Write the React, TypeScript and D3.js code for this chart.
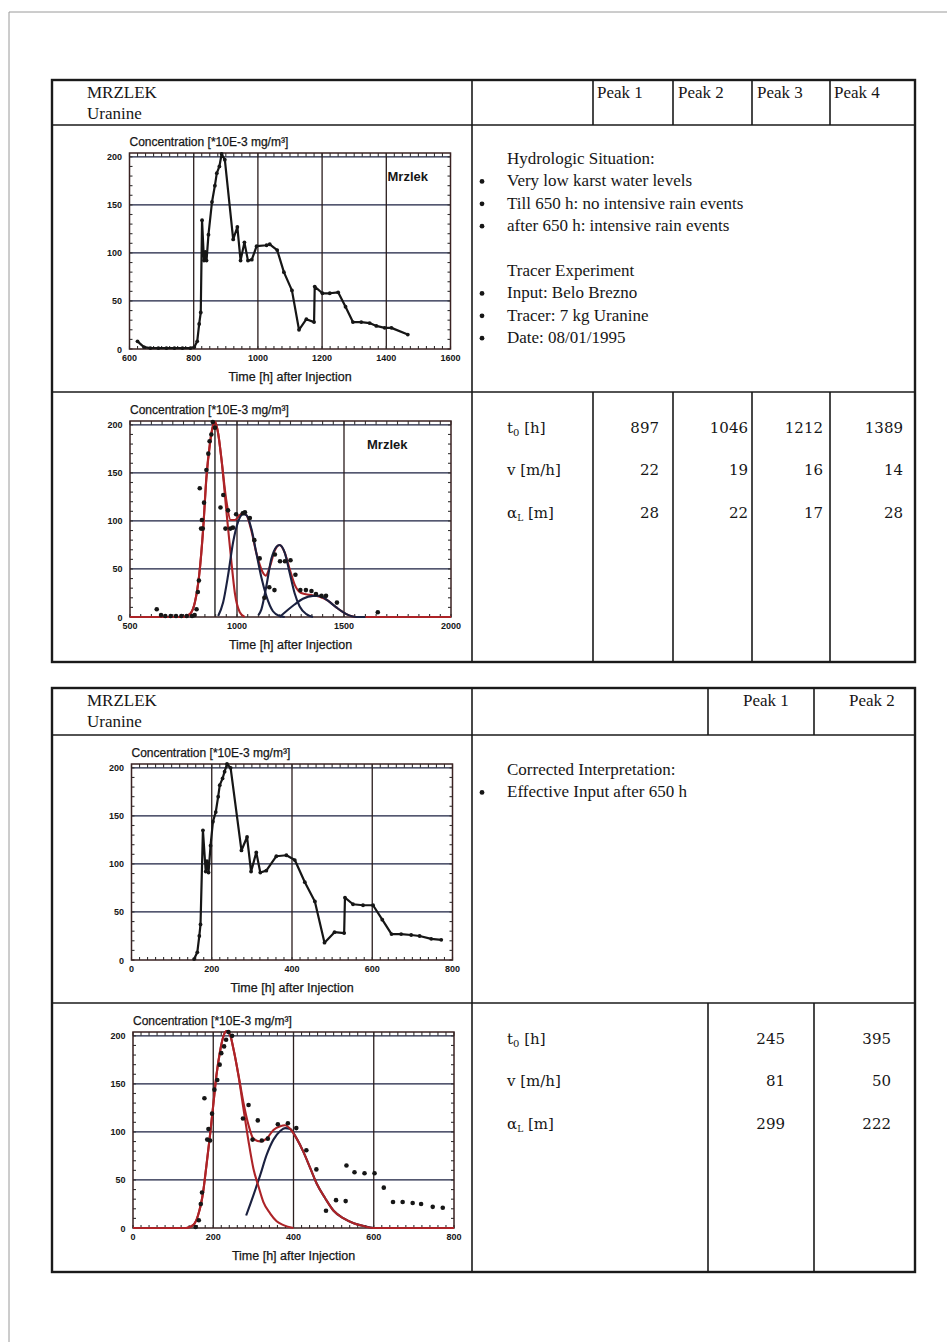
import React, { useEffect, useRef } from 'react';
import * as d3 from 'd3';

// Mrzlek spring, uranine breakthrough (time [h] after injection, conc. *10E-3 mg/m3)
const measured: [number, number][] = [
  [625, 8], [645, 2], [665, 1], [690, 1], [715, 1], [740, 1], [765, 1], [790, 1],
  [802, 2], [811, 8], [817, 26], [822, 38], [826, 134], [832, 92], [836, 101], [840, 92],
  [846, 119], [857, 153], [866, 170], [872, 183], [880, 190], [887, 203], [897, 197],
  [923, 114], [936, 127], [946, 92], [958, 111], [969, 92], [981, 93], [996, 107],
  [1027, 108], [1037, 109], [1060, 103], [1081, 80], [1106, 61], [1128, 20], [1151, 31],
  [1175, 28], [1177, 65], [1201, 58], [1224, 58], [1250, 59], [1273, 44], [1296, 28],
  [1322, 28], [1348, 27], [1369, 24], [1395, 22], [1416, 22], [1467, 15],
];
const lateSample: [number, number][] = [[1658, 5]];

// four-peak model fit (first interpretation)
const fitTotal: [number, number][] = [
  [500, 0], [749, 0], [780, 3], [803, 15], [823, 43], [842, 92], [857, 146], [873, 180],
  [889, 200], [898, 203], [912, 191], [927, 165], [951, 120], [970, 101], [990, 101],
  [1013, 106], [1028, 108], [1044, 106], [1067, 90], [1090, 67], [1119, 47], [1134, 43],
  [1153, 52], [1176, 69], [1199, 75], [1223, 67], [1246, 50], [1269, 34], [1300, 25],
  [1340, 23], [1386, 21], [1425, 17], [1464, 10], [1511, 3], [1557, 0], [2000, 0],
];
const fitPeak1: [number, number][] = [
  [500, 0], [749, 0], [780, 3], [803, 15], [823, 43], [842, 92], [857, 144], [873, 179],
  [889, 200], [898, 203], [912, 191], [927, 165], [951, 109], [974, 57], [990, 25],
  [1013, 5], [1036, 0],
];
const fitPeak2: [number, number][] = [
  [912, 1], [935, 15], [958, 43], [982, 78], [1005, 99], [1028, 107], [1044, 106],
  [1067, 92], [1090, 67], [1114, 41], [1137, 22], [1168, 6], [1199, 1], [1223, 0],
];
const fitPeak3: [number, number][] = [
  [1100, 2], [1114, 8], [1137, 32], [1160, 60], [1184, 73], [1199, 75], [1223, 67],
  [1246, 46], [1269, 25], [1293, 11], [1324, 3], [1355, 0],
];
const fitPeak4: [number, number][] = [
  [1199, 0], [1230, 6], [1269, 13], [1308, 19], [1355, 22], [1386, 22], [1425, 17],
  [1464, 10], [1511, 3], [1557, 0], [1600, 0],
];
const peak1Marker = [897];

// corrected interpretation: time [h] after 650 h
const corrected: [number, number][] = [
  [156, 1], [164, 8], [169, 25], [172, 37], [178, 135], [185, 92], [188, 103], [192, 91],
  [197, 119], [203, 144], [210, 154], [216, 170], [220, 182], [227, 189], [232, 196],
  [238, 204], [247, 200], [274, 114], [288, 128], [298, 92], [311, 112], [321, 91],
  [336, 93], [361, 108], [386, 109], [407, 104], [432, 81], [457, 61], [481, 18],
  [506, 29], [530, 28], [532, 65], [552, 58], [577, 57], [602, 57], [625, 42], [648, 27],
  [672, 27], [697, 26], [718, 25], [747, 22], [772, 21],
];
const corrFitTotal: [number, number][] = [
  [0, 0], [133, 0], [150, 3], [162, 13], [175, 38], [183, 65], [192, 97], [200, 128],
  [208, 159], [217, 184], [225, 199], [233, 205], [242, 201], [250, 187], [263, 159],
  [275, 131], [288, 107], [300, 93], [317, 90], [333, 93], [350, 102], [367, 106],
  [379, 107], [392, 103], [408, 93], [425, 79], [442, 62], [458, 46], [479, 31],
  [500, 18], [525, 10], [550, 5], [575, 2], [600, 0], [800, 0],
];
const corrFitPeak1: [number, number][] = [
  [133, 0], [150, 3], [162, 13], [175, 38], [183, 65], [192, 97], [200, 128], [208, 159],
  [217, 184], [225, 199], [233, 205], [242, 201], [250, 187], [263, 158], [275, 125],
  [288, 90], [300, 62], [313, 43], [325, 27], [342, 15], [358, 7], [375, 3], [400, 0],
];
const corrFitPeak2: [number, number][] = [
  [282, 13], [300, 34], [317, 55], [333, 76], [350, 92], [367, 101], [379, 104],
  [392, 103], [408, 93], [425, 79], [442, 62], [458, 46], [479, 31], [500, 18],
  [525, 10], [550, 5], [575, 2], [600, 0],
];

// table contents
const siteName = 'MRZLEK';
const tracerName = 'Uranine';
const peaksTop = ['Peak 1', 'Peak 2', 'Peak 3', 'Peak 4'];
const t0Top = [897, 1046, 1212, 1389];
const vTop = [22, 19, 16, 14];
const alphaTop = [28, 22, 17, 28];
const peaksBottom = ['Peak 1', 'Peak 2'];
const t0Bottom = [245, 395];
const vBottom = [81, 50];
const alphaBottom = [299, 222];
const situation = [
  { text: 'Hydrologic Situation:', bullet: false },
  { text: 'Very low karst water levels', bullet: true },
  { text: 'Till 650 h: no intensive rain events', bullet: true },
  { text: 'after 650 h: intensive rain events', bullet: true },
  { text: '', bullet: false },
  { text: 'Tracer Experiment', bullet: false },
  { text: 'Input: Belo Brezno', bullet: true },
  { text: 'Tracer: 7 kg Uranine', bullet: true },
  { text: 'Date: 08/01/1995', bullet: true },
];
const correction = [
  { text: 'Corrected Interpretation:', bullet: false },
  { text: 'Effective Input after 650 h', bullet: true },
];
const yTicks = [0, 50, 100, 150, 200];

const PLOT_W = 321;
const PLOT_H = 196;
const Y_MAX = 204;
const SANS = '"Liberation Sans", Arial, sans-serif';
const SERIF = '"Liberation Serif", "Times New Roman", serif';
const BOOK = '"DejaVu Serif", serif';
const RED = '#ad2327';
const NAVY = '#1b2140';
const INK = '#161616';

type Pt = [number, number];
interface ChartCfg {
  left: number;
  top: number;
  xDomain: [number, number];
  xTicks: number[];
  xMinor: number;
  markers?: number[];
  dataLine?: Pt[];
  dots?: Pt[];
  fits?: { data: Pt[]; color: string }[];
  label?: { text: string; x: number };
}

function drawChart(root: any, cfg: ChartCfg) {
  const g = root.append('g').attr('transform', `translate(${cfg.left},${cfg.top})`);
  const x = d3.scaleLinear().domain(cfg.xDomain).range([0, PLOT_W]);
  const y = d3.scaleLinear().domain([0, Y_MAX]).range([PLOT_H, 0]);

  g.append('rect').attr('width', PLOT_W).attr('height', PLOT_H).attr('fill', '#fff');

  // horizontal grid
  g.selectAll('.hg').data(yTicks.slice(1)).join('line')
    .attr('x1', 0).attr('x2', PLOT_W)
    .attr('y1', (d: number) => y(d)).attr('y2', (d: number) => y(d))
    .attr('stroke', NAVY).attr('stroke-width', 1.3);

  // vertical grid
  g.selectAll('.vg').data(cfg.xTicks.slice(1, -1)).join('line')
    .attr('x1', (d: number) => x(d)).attr('x2', (d: number) => x(d))
    .attr('y1', 0).attr('y2', PLOT_H)
    .attr('stroke', '#2a1d1d').attr('stroke-width', 1.3);

  (cfg.markers || []).forEach((m) => {
    g.append('line').attr('x1', x(m)).attr('x2', x(m)).attr('y1', 0).attr('y2', PLOT_H)
      .attr('stroke', '#222').attr('stroke-width', 1.4);
  });

  // minor ticks, pointing inward
  const xm = d3.range(cfg.xDomain[0], cfg.xDomain[1] + 0.001, cfg.xMinor);
  const ym = d3.range(0, 201, 10);
  const tick = g.append('g').attr('stroke', '#333').attr('stroke-width', 1.1);
  xm.forEach((v) => {
    tick.append('line').attr('x1', x(v)).attr('x2', x(v)).attr('y1', PLOT_H).attr('y2', PLOT_H - 3);
    tick.append('line').attr('x1', x(v)).attr('x2', x(v)).attr('y1', 0).attr('y2', y(200));
  });
  ym.forEach((v) => {
    tick.append('line').attr('x1', 0).attr('x2', 3).attr('y1', y(v)).attr('y2', y(v));
    tick.append('line').attr('x1', PLOT_W).attr('x2', PLOT_W - 3).attr('y1', y(v)).attr('y2', y(v));
  });

  // frame
  g.append('rect').attr('width', PLOT_W).attr('height', PLOT_H)
    .attr('fill', 'none').attr('stroke', '#3a2222').attr('stroke-width', 1.5);

  const smooth = d3.line<Pt>().x((d) => x(d[0])).y((d) => y(d[1])).curve(d3.curveMonotoneX);
  (cfg.fits || []).forEach((f) => {
    g.append('path').datum(f.data).attr('d', smooth)
      .attr('fill', 'none').attr('stroke', f.color).attr('stroke-width', 2.1);
  });

  if (cfg.dataLine) {
    const straight = d3.line<Pt>().x((d) => x(d[0])).y((d) => y(d[1]));
    g.append('path').datum(cfg.dataLine).attr('d', straight)
      .attr('fill', 'none').attr('stroke', INK).attr('stroke-width', 2.2).attr('stroke-linejoin', 'round');
    g.selectAll('.lp').data(cfg.dataLine).join('circle')
      .attr('cx', (d: Pt) => x(d[0])).attr('cy', (d: Pt) => y(d[1])).attr('r', 1.9).attr('fill', INK);
  }

  if (cfg.dots) {
    g.selectAll('.dp').data(cfg.dots).join('circle')
      .attr('cx', (d: Pt) => x(d[0])).attr('cy', (d: Pt) => y(d[1])).attr('r', 2.3).attr('fill', INK);
  }

  // tick labels
  g.selectAll('.yl').data(yTicks).join('text')
    .attr('x', -7.5).attr('y', (d: number) => y(d) + 3.5)
    .attr('text-anchor', 'end').attr('font-family', SANS).attr('font-size', 9)
    .attr('font-weight', 'bold').attr('fill', INK).text((d: number) => d);
  g.selectAll('.xl').data(cfg.xTicks).join('text')
    .attr('x', (d: number) => x(d)).attr('y', PLOT_H + 11.5)
    .attr('text-anchor', 'middle').attr('font-family', SANS).attr('font-size', 9)
    .attr('font-weight', 'bold').attr('fill', INK).text((d: number) => d);

  g.append('text').attr('x', 0).attr('y', -7.5)
    .attr('font-family', SANS).attr('font-size', 12).attr('fill', INK)
    .attr('stroke', INK).attr('stroke-width', 0.25)
    .text('Concentration [*10E-3 mg/m³]');
  g.append('text').attr('x', PLOT_W / 2).attr('y', PLOT_H + 32).attr('text-anchor', 'middle')
    .attr('font-family', SANS).attr('font-size', 12.5).attr('fill', INK)
    .attr('stroke', INK).attr('stroke-width', 0.25)
    .text('Time [h] after Injection');

  if (cfg.label) {
    g.append('text').attr('x', cfg.label.x).attr('y', 28)
      .attr('font-family', SANS).attr('font-size', 13).attr('font-weight', 'bold').attr('fill', INK)
      .text(cfg.label.text);
  }
}

function drawTable(root: any, t: any) {
  const g = root.append('g').attr('stroke', '#1a1a1a').attr('fill', 'none');
  g.append('rect').attr('x', t.x0).attr('y', t.y0).attr('width', t.x1 - t.x0).attr('height', t.y1 - t.y0)
    .attr('stroke-width', 2.4);
  [t.yHead, t.yMid].forEach((yy: number) => {
    g.append('line').attr('x1', t.x0).attr('x2', t.x1).attr('y1', yy).attr('y2', yy).attr('stroke-width', 1.6);
  });
  g.append('line').attr('x1', t.split).attr('x2', t.split).attr('y1', t.y0).attr('y2', t.y1).attr('stroke-width', 1.6);
  t.cols.forEach((cx: number) => {
    g.append('line').attr('x1', cx).attr('x2', cx).attr('y1', t.y0).attr('y2', t.yHead).attr('stroke-width', 1.6);
    g.append('line').attr('x1', cx).attr('x2', cx).attr('y1', t.yMid).attr('y2', t.y1).attr('stroke-width', 1.6);
  });

  const txt = (x: number, y: number, s: string, font: string, size: number, anchor = 'start') =>
    root.append('text').attr('x', x).attr('y', y).attr('font-family', font).attr('font-size', size)
      .attr('text-anchor', anchor).attr('fill', INK).text(s);

  txt(87, t.y0 + 18, siteName, SERIF, 17);
  txt(87, t.y0 + 39, tracerName, SERIF, 17);
  t.peaks.forEach((p: string, i: number) => txt(t.peakX[i], t.y0 + 18, p, SERIF, 17));

  t.notes.forEach((n: any, i: number) => {
    if (!n.text) return;
    const yy = t.notesY + i * 22.4;
    if (n.bullet) root.append('circle').attr('cx', 482).attr('cy', yy - 5).attr('r', 2.4).attr('fill', INK);
    txt(507, yy, n.text, SERIF, 17);
  });

  // parameter rows
  const rowY = [t.yMid + 41, t.yMid + 83, t.yMid + 126];
  const lab0 = root.append('text').attr('x', 507).attr('y', rowY[0])
    .attr('font-family', BOOK).attr('font-size', 15).attr('fill', INK);
  lab0.append('tspan').text('t');
  lab0.append('tspan').attr('font-size', 10).attr('dy', 3).text('0');
  lab0.append('tspan').attr('dy', -3).text(' [h]');
  txt(507, rowY[1], 'v [m/h]', BOOK, 15);
  const lab2 = root.append('text').attr('x', 507).attr('y', rowY[2])
    .attr('font-family', BOOK).attr('font-size', 15).attr('fill', INK);
  lab2.append('tspan').text('α');
  lab2.append('tspan').attr('font-size', 9).attr('dy', 3).text('L');
  lab2.append('tspan').attr('dy', -3).text(' [m]');

  [t.t0, t.v, t.alpha].forEach((vals: number[], r: number) => {
    vals.forEach((v: number, i: number) => txt(t.valX[i], rowY[r], String(v), BOOK, 15, 'end'));
  });
}

export default function App() {
  const ref = useRef<SVGSVGElement>(null);

  useEffect(() => {
    const svg = d3.select(ref.current);
    svg.selectAll('*').remove();
    svg.append('rect').attr('width', 947).attr('height', 1342).attr('fill', '#fff');

    // scanned page edge
    svg.append('line').attr('x1', 9).attr('x2', 947).attr('y1', 12).attr('y2', 12)
      .attr('stroke', '#9a9a9a').attr('stroke-width', 1);
    svg.append('line').attr('x1', 9).attr('x2', 9).attr('y1', 12).attr('y2', 1342)
      .attr('stroke', '#9a9a9a').attr('stroke-width', 1);

    drawTable(svg, {
      x0: 52, x1: 915, y0: 80, yHead: 125, yMid: 392, y1: 662, split: 472,
      cols: [593, 673, 752, 830], peaks: peaksTop, peakX: [597, 678, 757, 834],
      notes: situation, notesY: 164,
      t0: t0Top, v: vTop, alpha: alphaTop, valX: [659, 748, 823, 903],
    });
    drawTable(svg, {
      x0: 52, x1: 915, y0: 688, yHead: 735, yMid: 1003, y1: 1272, split: 472,
      cols: [708, 814], peaks: peaksBottom, peakX: [743, 849],
      notes: correction, notesY: 775,
      t0: t0Bottom, v: vBottom, alpha: alphaBottom, valX: [785, 891],
    });

    drawChart(svg, {
      left: 129.5, top: 153, xDomain: [600, 1600], xTicks: [600, 800, 1000, 1200, 1400, 1600],
      xMinor: 25, dataLine: measured, label: { text: 'Mrzlek', x: 258 },
    });
    drawChart(svg, {
      left: 130, top: 421, xDomain: [500, 2000], xTicks: [500, 1000, 1500, 2000],
      xMinor: 50, markers: peak1Marker,
      fits: [
        { data: fitTotal, color: RED },
        { data: fitPeak1, color: RED },
        { data: fitPeak2, color: NAVY },
        { data: fitPeak3, color: NAVY },
        { data: fitPeak4, color: NAVY },
      ],
      dots: measured.concat(lateSample), label: { text: 'Mrzlek', x: 237 },
    });
    drawChart(svg, {
      left: 131.5, top: 764, xDomain: [0, 800], xTicks: [0, 200, 400, 600, 800],
      xMinor: 20, dataLine: corrected,
    });
    drawChart(svg, {
      left: 133, top: 1032, xDomain: [0, 800], xTicks: [0, 200, 400, 600, 800],
      xMinor: 20,
      fits: [
        { data: corrFitPeak2, color: NAVY },
        { data: corrFitPeak1, color: RED },
        { data: corrFitTotal, color: RED },
      ],
      dots: corrected,
    });
  }, []);

  return (
    <svg ref={ref} width={947} height={1342}
      style={{ position: 'absolute', left: 0, top: 0, display: 'block' }} />
  );
}
